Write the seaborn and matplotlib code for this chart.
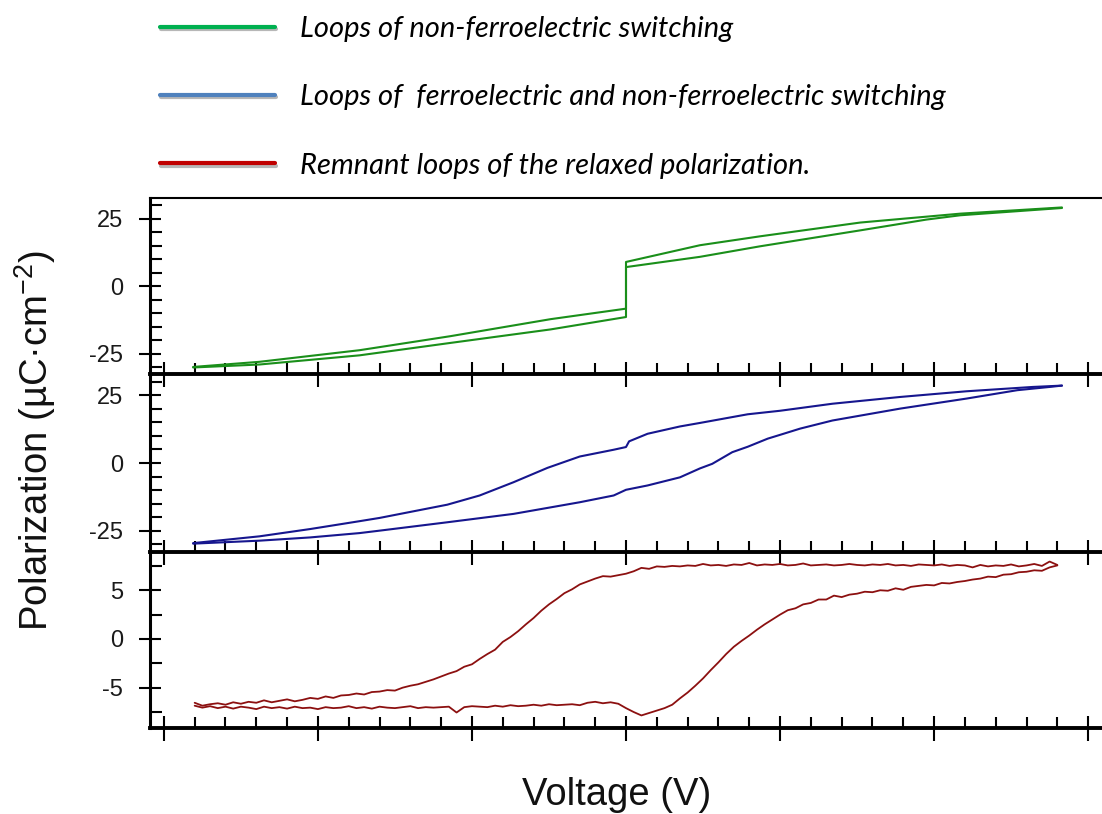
import matplotlib
matplotlib.use("Agg")
import matplotlib.pyplot as plt
import matplotlib.patheffects as pe
from matplotlib.lines import Line2D
from matplotlib.ticker import MultipleLocator, NullFormatter
import seaborn as sns

# ---------------- data ----------------
legend_labels = [
    "Loops of non-ferroelectric switching",
    "Loops of  ferroelectric and non-ferroelectric switching",
    "Remnant loops of the relaxed polarization.",
]
legend_colors = ["#00b050", "#4f81bd", "#c00000"]

x_label = "Voltage (V)"
y_label = "Polarization (µC·cm$^{-2}$)"

# panel 1 : non-ferroelectric switching (green)
green_v_up = [-2.81, -2.38, -1.73, -1.14, -0.49, 0.0, 0.0, 0.48, 0.87, 1.52, 2.17, 2.83]
green_p_up = [-29.9, -28.0, -23.7, -18.5, -12.2, -8.3, 9.0, 15.2, 18.5, 23.6, 26.9, 29.2]
green_v_lo = [-2.81, -2.38, -1.73, -1.14, -0.49, 0.0, 0.0, 0.48, 0.87, 1.52, 1.95, 2.17, 2.83]
green_p_lo = [-30.1, -29.0, -25.6, -21.0, -16.0, -11.4, 7.1, 10.9, 14.8, 20.7, 24.7, 26.3, 29.0]

# panel 2 : ferroelectric + non-ferroelectric switching (blue)
blue_v_up = [-2.81, -2.38, -2.05, -1.73, -1.60, -1.16, -0.95, -0.73, -0.51, -0.30, -0.08,
             0.0, 0.02, 0.14, 0.35, 0.48, 0.79, 1.0, 1.34, 1.78, 2.21, 2.64, 2.83]
blue_p_up = [-29.6, -27.1, -24.4, -21.5, -20.3, -15.4, -12.0, -7.1, -1.8, 2.4, 4.9,
             5.9, 8.0, 10.8, 13.5, 14.8, 18.0, 19.3, 21.9, 24.4, 26.5, 28.1, 28.6]
blue_v_lo = [-2.81, -2.38, -2.05, -1.73, -1.60, -1.16, -0.73, -0.30, -0.08, 0.0, 0.14,
             0.35, 0.48, 0.56, 0.69, 0.79, 0.92, 1.0, 1.13, 1.34, 1.78, 2.21, 2.54, 2.75, 2.83]
blue_p_lo = [-29.8, -28.7, -27.5, -25.9, -25.0, -21.9, -18.8, -14.5, -12.0, -9.9, -8.3,
             -5.3, -2.0, -0.3, 4.0, 6.0, 9.0, 10.4, 12.7, 15.7, 20.1, 23.8, 26.9, 28.1, 28.6]

# panel 3 : remnant loops of the relaxed polarization (red)
red_v = [-2.80, -2.75, -2.70, -2.65, -2.60, -2.55, -2.50, -2.45, -2.40, -2.35,
         -2.30, -2.25, -2.20, -2.15, -2.10, -2.05, -2.00, -1.95, -1.90, -1.85,
         -1.80, -1.75, -1.70, -1.65, -1.60, -1.55, -1.50, -1.45, -1.40, -1.35,
         -1.30, -1.25, -1.20, -1.15, -1.10, -1.05, -1.00, -0.95, -0.90, -0.85,
         -0.80, -0.75, -0.70, -0.65, -0.60, -0.55, -0.50, -0.45, -0.40, -0.35,
         -0.30, -0.25, -0.20, -0.15, -0.10, -0.05, 0.00, 0.05, 0.10, 0.15,
         0.20, 0.25, 0.30, 0.35, 0.40, 0.45, 0.50, 0.55, 0.60, 0.65,
         0.70, 0.75, 0.80, 0.85, 0.90, 0.95, 1.00, 1.05, 1.10, 1.15,
         1.20, 1.25, 1.30, 1.35, 1.40, 1.45, 1.50, 1.55, 1.60, 1.65,
         1.70, 1.75, 1.80, 1.85, 1.90, 1.95, 2.00, 2.05, 2.10, 2.15,
         2.20, 2.25, 2.30, 2.35, 2.40, 2.45, 2.50, 2.55, 2.60, 2.65,
         2.70, 2.75, 2.80]
red_p_up = [-6.55, -6.85, -6.70, -6.60, -6.75, -6.50, -6.65, -6.45, -6.55, -6.30,
            -6.50, -6.35, -6.20, -6.40, -6.25, -6.05, -6.15, -5.90, -6.05, -5.80,
            -5.75, -5.60, -5.70, -5.45, -5.40, -5.25, -5.30, -5.00, -4.80, -4.65,
            -4.40, -4.15, -3.85, -3.55, -3.30, -2.85, -2.60, -2.05, -1.55, -1.10,
            -0.30, 0.20, 0.80, 1.50, 2.15, 2.90, 3.55, 4.10, 4.70, 5.10,
            5.60, 5.90, 6.20, 6.45, 6.40, 6.55, 6.70, 6.95, 7.30, 7.20,
            7.45, 7.40, 7.50, 7.45, 7.55, 7.50, 7.70, 7.55, 7.60, 7.50,
            7.65, 7.60, 7.80, 7.55, 7.65, 7.60, 7.70, 7.55, 7.60, 7.75,
            7.55, 7.60, 7.65, 7.55, 7.60, 7.70, 7.60, 7.55, 7.65, 7.60,
            7.70, 7.55, 7.60, 7.50, 7.65, 7.60, 7.55, 7.65, 7.50, 7.60,
            7.55, 7.35, 7.60, 7.45, 7.55, 7.50, 7.65, 7.45, 7.55, 7.70,
            7.50, 7.95, 7.60]
red_p_lo = [-6.85, -7.05, -6.90, -7.10, -6.95, -7.15, -6.95, -7.05, -7.20, -6.95,
            -7.10, -7.00, -7.15, -6.95, -7.10, -7.05, -7.20, -7.00, -7.10, -7.05,
            -6.90, -7.10, -7.00, -7.15, -6.95, -7.05, -7.10, -7.00, -6.90, -7.10,
            -7.00, -7.05, -7.00, -6.95, -7.55, -7.00, -6.90, -6.95, -7.00, -6.85,
            -6.95, -6.80, -6.90, -6.85, -6.75, -6.85, -6.70, -6.80, -6.75, -6.70,
            -6.80, -6.55, -6.45, -6.60, -6.50, -6.65, -7.10, -7.50, -7.85, -7.60,
            -7.35, -7.10, -6.75, -6.10, -5.50, -4.80, -4.05, -3.20, -2.40, -1.55,
            -0.80, -0.20, 0.35, 0.95, 1.50, 2.00, 2.50, 2.95, 3.15, 3.55,
            3.70, 4.05, 4.05, 4.45, 4.30, 4.55, 4.65, 4.85, 4.80, 5.00,
            4.95, 5.20, 5.05, 5.35, 5.45, 5.55, 5.50, 5.75, 5.70, 5.85,
            5.95, 6.10, 6.20, 6.40, 6.35, 6.60, 6.65, 6.85, 6.90, 7.05,
            7.00, 7.35, 7.55]

# ---------------- style ----------------
sns.set_style("ticks")
plt.rcParams["font.family"] = ["Liberation Sans", "DejaVu Sans"]
plt.rcParams["axes.unicode_minus"] = False
plt.rcParams["mathtext.fontset"] = "custom"
plt.rcParams["mathtext.rm"] = "Liberation Sans"
plt.rcParams["mathtext.it"] = "Liberation Sans:italic"
plt.rcParams["mathtext.bf"] = "Liberation Sans:bold"

W, H = 1102, 814
fig = plt.figure(figsize=(W / 100, H / 100), dpi=100)
fig.patch.set_facecolor("white")

left = 150 / W
width = 1 - left


def add_panel(top_px, bot_px):
    return fig.add_axes([left, 1 - bot_px / H, width, (bot_px - top_px) / H])


ax1 = add_panel(198, 374.5)
ax2 = add_panel(374.5, 551.5)
ax3 = add_panel(551.5, 728)

green = "#1a8f1a"
blue = "#16168e"
red = "#8c1010"

sns.lineplot(x=green_v_up, y=green_p_up, ax=ax1, sort=False, estimator=None, color=green, linewidth=1.5)
sns.lineplot(x=green_v_lo, y=green_p_lo, ax=ax1, sort=False, estimator=None, color=green, linewidth=1.5)
sns.lineplot(x=blue_v_up, y=blue_p_up, ax=ax2, sort=False, estimator=None, color=blue, linewidth=1.5)
sns.lineplot(x=blue_v_lo, y=blue_p_lo, ax=ax2, sort=False, estimator=None, color=blue, linewidth=1.5)
sns.lineplot(x=red_v, y=red_p_up, ax=ax3, sort=False, estimator=None, color=red, linewidth=1.3)
sns.lineplot(x=red_v, y=red_p_lo, ax=ax3, sort=False, estimator=None, color=red, linewidth=1.3)

ax1.set_ylim(-32.7, 32.7)
ax2.set_ylim(-32.7, 32.7)
ax3.set_ylim(-9.14, 8.98)
for ax in (ax1, ax2):
    ax.yaxis.set_major_locator(MultipleLocator(25))
    ax.yaxis.set_minor_locator(MultipleLocator(5))
ax3.yaxis.set_major_locator(MultipleLocator(5))
ax3.yaxis.set_minor_locator(MultipleLocator(2.5))

for ax in (ax1, ax2, ax3):
    ax.set_facecolor("none")
    ax.set_xlim(-3.09, 3.09)
    ax.xaxis.set_major_locator(MultipleLocator(1))
    ax.xaxis.set_minor_locator(MultipleLocator(0.2))
    ax.xaxis.set_major_formatter(NullFormatter())
    ax.tick_params(axis="x", which="major", direction="inout", length=18, width=1.5, color="black")
    ax.tick_params(axis="x", which="minor", direction="in", length=8, width=1.5, color="black")
    ax.tick_params(axis="y", which="major", direction="inout", length=16.5, width=1.5, color="black",
                   pad=11, labelsize=17, labelcolor="#1a1a1a")
    ax.tick_params(axis="y", which="minor", direction="in", length=8.5, width=1.5, color="black")
    ax.spines["right"].set_visible(False)
    ax.spines["top"].set_visible(False)
    ax.spines["bottom"].set_linewidth(2.8)
    ax.spines["bottom"].set_color("black")
    ax.spines["left"].set_linewidth(2.2)
    ax.spines["left"].set_color("black")
    ax.set_xlabel("")
    ax.set_ylabel("")
    ax.grid(False)

ax1.spines["top"].set_visible(True)
ax1.spines["top"].set_linewidth(1.5)
ax1.spines["top"].set_color("black")

fig.text(35 / W, 1 - 441 / H, y_label, rotation=90, fontsize=27.5, ha="center", va="center", color="#111111")
fig.text(617 / W, 1 - 795 / H, x_label, fontsize=27.5, ha="center", va="center", color="#111111")

shadow = [pe.SimpleLineShadow(offset=(0.6, -1.6), shadow_color="#888888", alpha=0.6), pe.Normal()]
handles = [Line2D([], [], color=c, lw=3, path_effects=shadow) for c in legend_colors]
fig.legend(handles, legend_labels, loc="upper left", bbox_to_anchor=(160 / W, 1 - 16 / H),
           frameon=False, prop=dict(family="Lato", style="italic", size=21), labelcolor="black",
           handlelength=3.94, handletextpad=0.85, labelspacing=1.45, borderpad=0, borderaxespad=0)

fig.savefig("out.png", dpi=100, facecolor="white")
